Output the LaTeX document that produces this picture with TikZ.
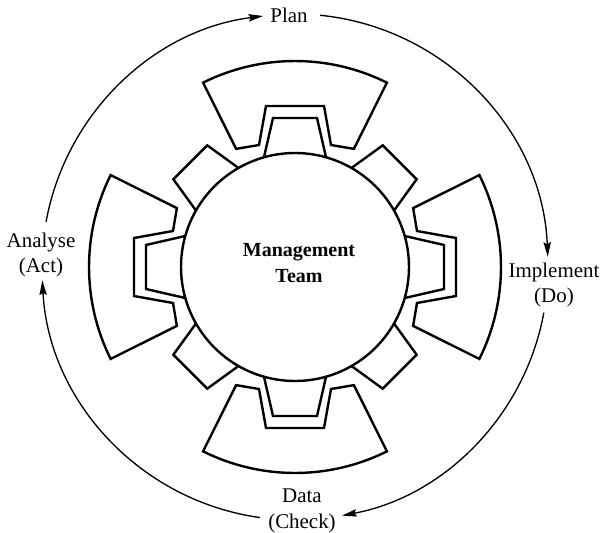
\documentclass[tikz,border=0pt]{standalone}
\usepackage{fontspec}
\setmainfont{Liberation Serif}
\usetikzlibrary{arrows.meta}
\begin{document}
\begin{tikzpicture}[x=0.75pt,y=0.75pt,
  ring/.style={line width=1.8pt},
  pdca/.style={line width=1pt,-{Stealth[length=11pt,width=5.5pt,inset=1.5pt]}},
  lbl/.style={align=center,inner sep=0pt,font=\fontsize{15.7}{19}\selectfont}]
  \useasboundingbox (-295,-265) rectangle (307,267);
  % the team and its table
  \draw[ring] (0,0) circle[radius=114];
  \node[align=center,font=\bfseries\fontsize{15}{19.5}\selectfont] (team) at (4,4) {Management\\Team};
  \foreach \a in {0,90,180,270}{
    \draw[ring,rotate=\a] (116.5:132) -- (-36,122) -- (-29,161) -- (29,161) -- (36,122) -- (63.5:132)
      -- (63.5:206) arc[start angle=63.5,end angle=116.5,radius=206] -- cycle;
    \draw[ring,rotate=\a] (105.8:114) -- (-22,149) -- (22,149) -- (74.2:114);
    \draw[ring,rotate=\a+45] (105.3:114) -- (-24,148) -- (24,148) -- (74.7:114);
  }
  % the cycle round it
  \node[lbl] (plan) at (-6,251.5) {Plan};
  \node[lbl] (do) at (259,-18) {Implement\\(Do)};
  \node[lbl] (check) at (7,-244) {Data\\(Check)};
  \node[lbl] (act) at (-254,12) {Analyse\\(Act)};
  \coordinate (s1) at (84.3:253);
  \coordinate (s2) at (-10.4:253);
  \coordinate (s3) at (262:253);
  \coordinate (s4) at (169.7:253);
  \draw[pdca] (s1) arc[start angle=84.3,end angle=2.3,radius=253];
  \draw[pdca] (s2) arc[start angle=-10.4,end angle=-79.3,radius=253];
  \draw[pdca] (s3) arc[start angle=262,end angle=183,radius=253];
  \draw[pdca] (s4) arc[start angle=169.7,end angle=97.2,radius=253];
\end{tikzpicture}
\end{document}
